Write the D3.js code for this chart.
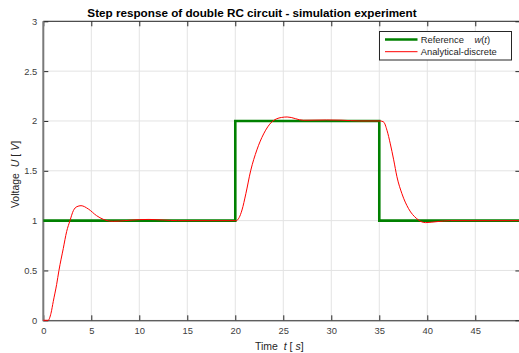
<!DOCTYPE html>
<html>
<head>
<meta charset="utf-8">
<script src="https://cdn.jsdelivr.net/npm/d3@7"></script>
<style>
  body { margin: 0; background: #fff; }
  svg { display: block; font-family: "Liberation Sans", Arial, Helvetica, sans-serif; }
  .tick text { fill: #404040; font-size: 9.4px; }
</style>
</head>
<body>
<svg id="chart" width="519" height="353"></svg>
<script>
// reference step signal w(t)
const refT = [0, 20, 20, 35, 35, 49.7];
const refU = [1, 1, 2, 2, 1, 1];

// analytical-discrete response
const respT = [0, 0.5, 0.8, 1.04, 1.39, 1.63, 2.08, 2.43, 2.78, 3.13, 3.5, 3.93, 4.69, 5.55, 6.25, 7.3, 8.5, 10, 11, 12.5, 14, 20,
  20.1, 20.4, 20.7, 21.1, 21.6, 22.25, 22.95, 23.8, 24.8, 25.4, 27.1, 29.5, 31, 33, 35.1,
  35.45, 35.8, 36.15, 36.5, 36.84, 37.36, 38.05, 38.9, 39.8, 41, 42.4, 49.7];
const respU = [0, 0, 0.07, 0.19, 0.36, 0.5, 0.72, 0.89, 1.0, 1.10, 1.14, 1.15, 1.117, 1.05, 1.013, 0.993, 1.0, 1.01, 1.012, 1.006, 1.0, 1.0,
  1.0, 1.03, 1.107, 1.27, 1.5, 1.71, 1.87, 1.99, 2.035, 2.04, 2.007, 2.01, 2.008, 2.0, 2.0,
  1.99, 1.907, 1.77, 1.61, 1.44, 1.27, 1.12, 1.02, 0.98, 0.99, 1.0, 1.0];

const xTicks = [0, 5, 10, 15, 20, 25, 30, 35, 40, 45];
const yTicks = [0, 0.5, 1, 1.5, 2, 2.5, 3];

const titleText = "Step response of double RC circuit - simulation experiment";

const svg = d3.select("#chart");
const pLeft = 43.3, pRight = 520.4, pTop = 21.3, pBottom = 320.3;

const x = d3.scaleLinear().domain([0, 49.7]).range([pLeft, pRight]);
const y = d3.scaleLinear().domain([0, 3]).range([pBottom, pTop]);

// grid
const grid = svg.append("g").attr("class", "grid");
grid.selectAll("line.gx").data(xTicks).enter().append("line")
  .attr("x1", d => x(d)).attr("x2", d => x(d))
  .attr("y1", pTop).attr("y2", pBottom)
  .attr("stroke", "#e3e3e3").attr("stroke-width", 1);
grid.selectAll("line.gy").data(yTicks).enter().append("line")
  .attr("x1", pLeft).attr("x2", pRight)
  .attr("y1", d => y(d)).attr("y2", d => y(d))
  .attr("stroke", "#e3e3e3").attr("stroke-width", 1);

// axes, ticks pointing inward
const styleAxis = g => {
  g.select(".domain").remove();
  g.selectAll(".tick line").attr("stroke", "#262626");
};
svg.append("g").attr("transform", `translate(0,${pBottom})`)
  .call(d3.axisBottom(x).tickValues(xTicks).tickSizeInner(-5).tickSizeOuter(0).tickPadding(7).tickFormat(d3.format("d")))
  .call(styleAxis);
svg.append("g").attr("transform", `translate(0,${pTop})`)
  .call(d3.axisTop(x).tickValues(xTicks).tickSizeInner(-5).tickSizeOuter(0).tickFormat(""))
  .call(styleAxis);
svg.append("g").attr("transform", `translate(${pLeft},0)`)
  .call(d3.axisLeft(y).tickValues(yTicks).tickSizeInner(-5).tickSizeOuter(0).tickPadding(6).tickFormat(d => d3.format("~g")(d)))
  .call(styleAxis);
svg.append("g").attr("transform", `translate(${pRight},0)`)
  .call(d3.axisRight(y).tickValues(yTicks).tickSizeInner(-5).tickSizeOuter(0).tickFormat(""))
  .call(styleAxis);
svg.selectAll("g").attr("font-family", null).attr("font-size", null);

// box
svg.append("line").attr("x1", pLeft).attr("x2", pRight).attr("y1", pBottom + 0.5).attr("y2", pBottom + 0.5)
  .attr("stroke", "#262626").attr("stroke-width", 1);
svg.append("line").attr("x1", pLeft).attr("x2", pRight).attr("y1", pTop).attr("y2", pTop)
  .attr("stroke", "#262626").attr("stroke-width", 1);
svg.append("line").attr("x1", pLeft).attr("x2", pLeft).attr("y1", pTop).attr("y2", pBottom + 1)
  .attr("stroke", "#7a7a7a").attr("stroke-width", 2);

// series
const refData = refT.map((t, i) => [t, refU[i]]);
const respData = respT.map((t, i) => [t, respU[i]]);

svg.append("path").datum(refData)
  .attr("fill", "none").attr("stroke", "#008000").attr("stroke-width", 2.6)
  .attr("d", d3.line().x(d => x(d[0])).y(d => y(d[1])));
svg.append("path").datum(respData)
  .attr("fill", "none").attr("stroke", "#ff0000").attr("stroke-width", 1)
  .attr("d", d3.line().curve(d3.curveMonotoneX).x(d => x(d[0])).y(d => y(d[1])));

// title
svg.append("text").attr("x", 252).attr("y", 16.5).attr("text-anchor", "middle")
  .attr("font-size", "11.7px").attr("font-weight", "bold").attr("fill", "#000")
  .text(titleText);

// x label
const xl = svg.append("text").attr("x", 255).attr("y", 349.5)
  .attr("font-size", "10.5px").attr("fill", "#262626");
xl.append("tspan").text("Time\u00a0\u00a0");
xl.append("tspan").attr("font-style", "italic").text("t");
xl.append("tspan").text(" [\u00a0");
xl.append("tspan").attr("font-style", "italic").text("s");
xl.append("tspan").text("]");

// y label
const yl = svg.append("text").attr("transform", "translate(18.5,174.5) rotate(-90)")
  .attr("text-anchor", "middle").attr("font-size", "10.5px").attr("fill", "#262626");
yl.append("tspan").text("Voltage\u00a0\u00a0");
yl.append("tspan").attr("font-style", "italic").text("U");
yl.append("tspan").text(" [\u00a0");
yl.append("tspan").attr("font-style", "italic").text("V");
yl.append("tspan").text("]");

// legend
const lg = svg.append("g");
lg.append("rect").attr("x", 379.5).attr("y", 31.5).attr("width", 132).attr("height", 28.5)
  .attr("fill", "#fff").attr("stroke", "#262626").attr("stroke-width", 1);
const entries = [
  { color: "#008000", width: 2.6, yy: 39.5 },
  { color: "#ff0000", width: 1, yy: 51.7 }
];
lg.selectAll("line.key").data(entries).enter().append("line")
  .attr("x1", 385).attr("x2", 417.5)
  .attr("y1", d => d.yy).attr("y2", d => d.yy)
  .attr("stroke", d => d.color).attr("stroke-width", d => d.width);
const t1 = lg.append("text").attr("x", 420.7).attr("y", 43).attr("font-size", "9.4px").attr("fill", "#262626");
t1.append("tspan").text("Reference\u00a0\u00a0\u00a0\u00a0");
t1.append("tspan").attr("font-style", "italic").text("w");
t1.append("tspan").text("(");
t1.append("tspan").attr("font-style", "italic").text("t");
t1.append("tspan").text(")");
lg.append("text").attr("x", 420.7).attr("y", 55.3).attr("font-size", "9.4px").attr("fill", "#262626")
  .text("Analytical-discrete");
</script>
</body>
</html>
